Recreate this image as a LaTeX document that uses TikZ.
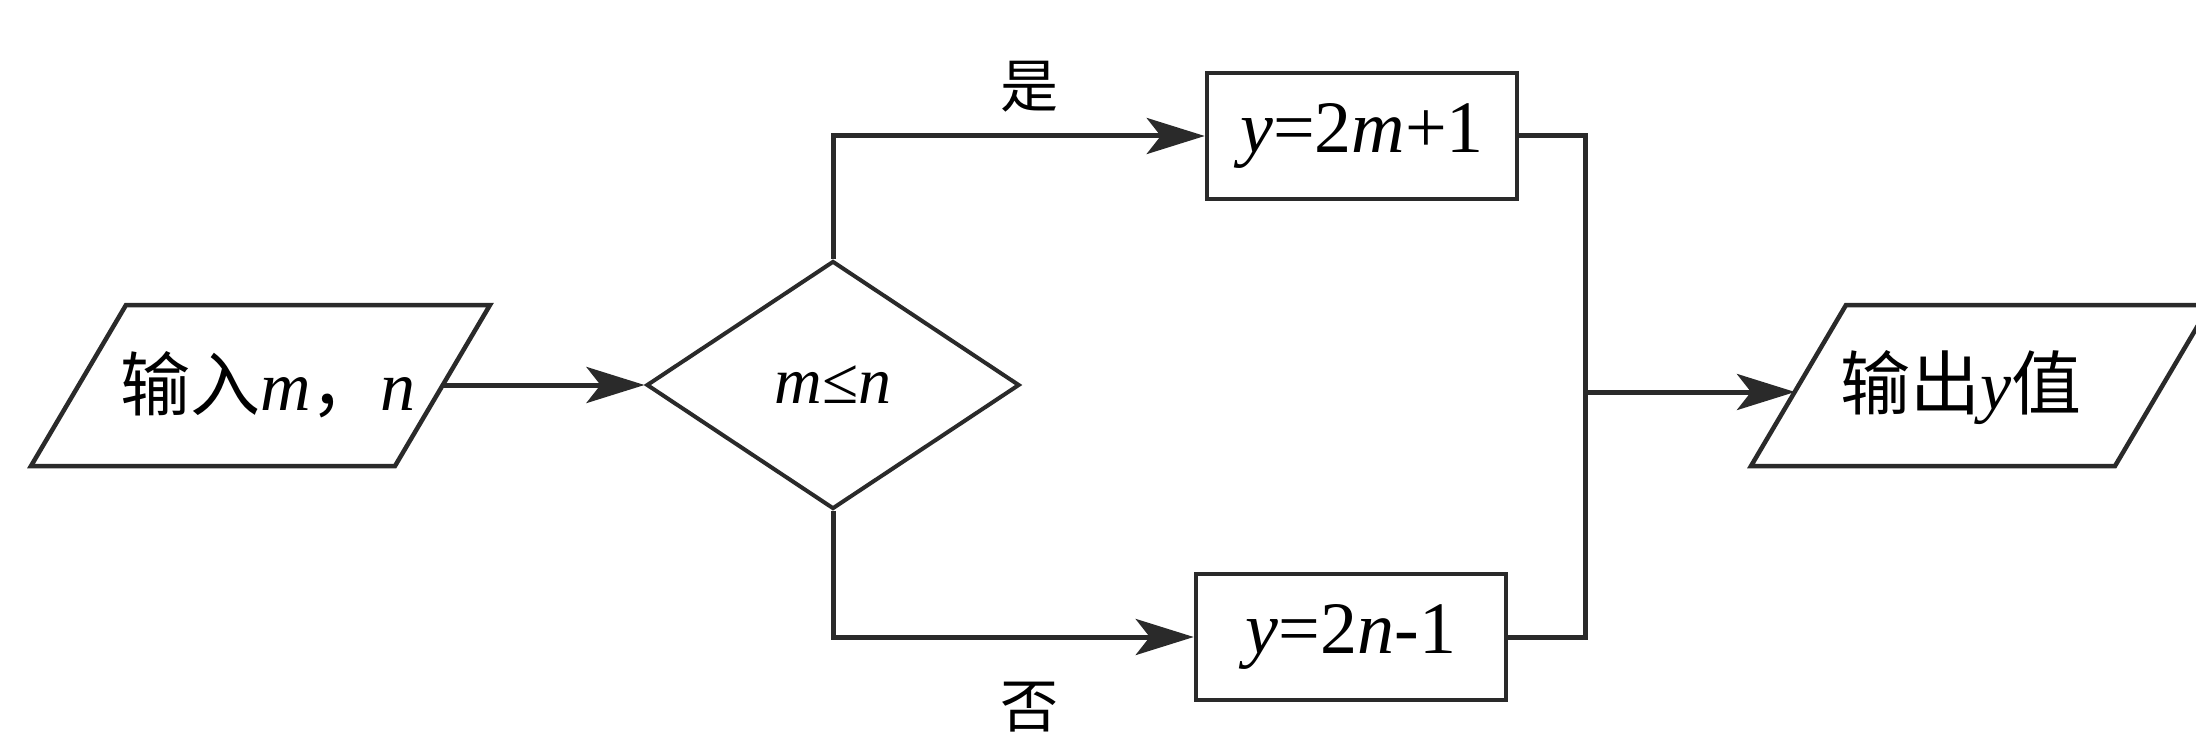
\documentclass[tikz,border=0pt]{standalone}
\usepackage{fontspec}
\setmainfont{Liberation Serif}
\newfontfamily\cjk{Noto Sans CJK SC}
\usetikzlibrary{shapes.geometric,arrows.meta}
\definecolor{lc}{HTML}{2A2A2A}
\begin{document}
\begin{tikzpicture}[x=1pt,y=-1pt,
  line/.style={draw=lc,line width=5pt},
  arr/.style={line,-{Stealth[length=58pt,width=36pt,inset=14pt]}},
  boxnode/.style={draw=lc,line width=4.5pt,minimum width=310pt,minimum height=126pt,inner sep=0pt,font=\fontsize{74}{80}\selectfont},
  dnode/.style={diamond,draw=lc,line width=4pt,minimum width=373pt,minimum height=248pt,inner sep=0pt,font=\fontsize{66}{72}\selectfont},
  txt/.style={inner sep=0pt,font=\fontsize{70}{80}\selectfont},
  lbl/.style={inner sep=0pt,font=\fontsize{58}{66}\selectfont\cjk}
]
\useasboundingbox (0,0) rectangle (2196,738);
\fill[white] (0,0) rectangle (2196,738);
% input
\draw[draw=lc,line width=4.5pt] (126,305) -- (490,305) -- (395,466) -- (31,466) -- cycle;
\node[txt] (in) at (268,385) {{\cjk 输入}\textit{m}{\cjk ，}\textit{n}};
\coordinate (inR) at (443,385);
% decision
\node[dnode] (dec) at (833,385) {\textit{m}≤\textit{n}};
% process boxes
\node[boxnode] (b1) at (1362,136) {\textit{y}=2\textit{m}+1};
\node[boxnode] (b2) at (1351,637) {\textit{y}=2\textit{n}-1};
% output
\draw[draw=lc,line width=4.5pt] (1846,305) -- (2210,305) -- (2115,466) -- (1751,466) -- cycle;
\node[txt] (out) at (1961,388) {{\cjk 输出}\textit{y}{\cjk 值}};
\coordinate (outL) at (1795,392);
\coordinate (mj) at (1585,392);
% labels
\node[lbl] (yes) at (1029,87) {是};
\node[lbl] (no) at (1029,707) {否};
% connectors
\draw[arr] (inR) -- (dec.west);
\draw[arr] (dec.north) |- (b1.west);
\draw[arr] (dec.south) |- (b2.west);
\draw[line] (b1.east) -| (mj) |- (b2.east);
\draw[arr] (mj) -- (outL);
\end{tikzpicture}
\end{document}
